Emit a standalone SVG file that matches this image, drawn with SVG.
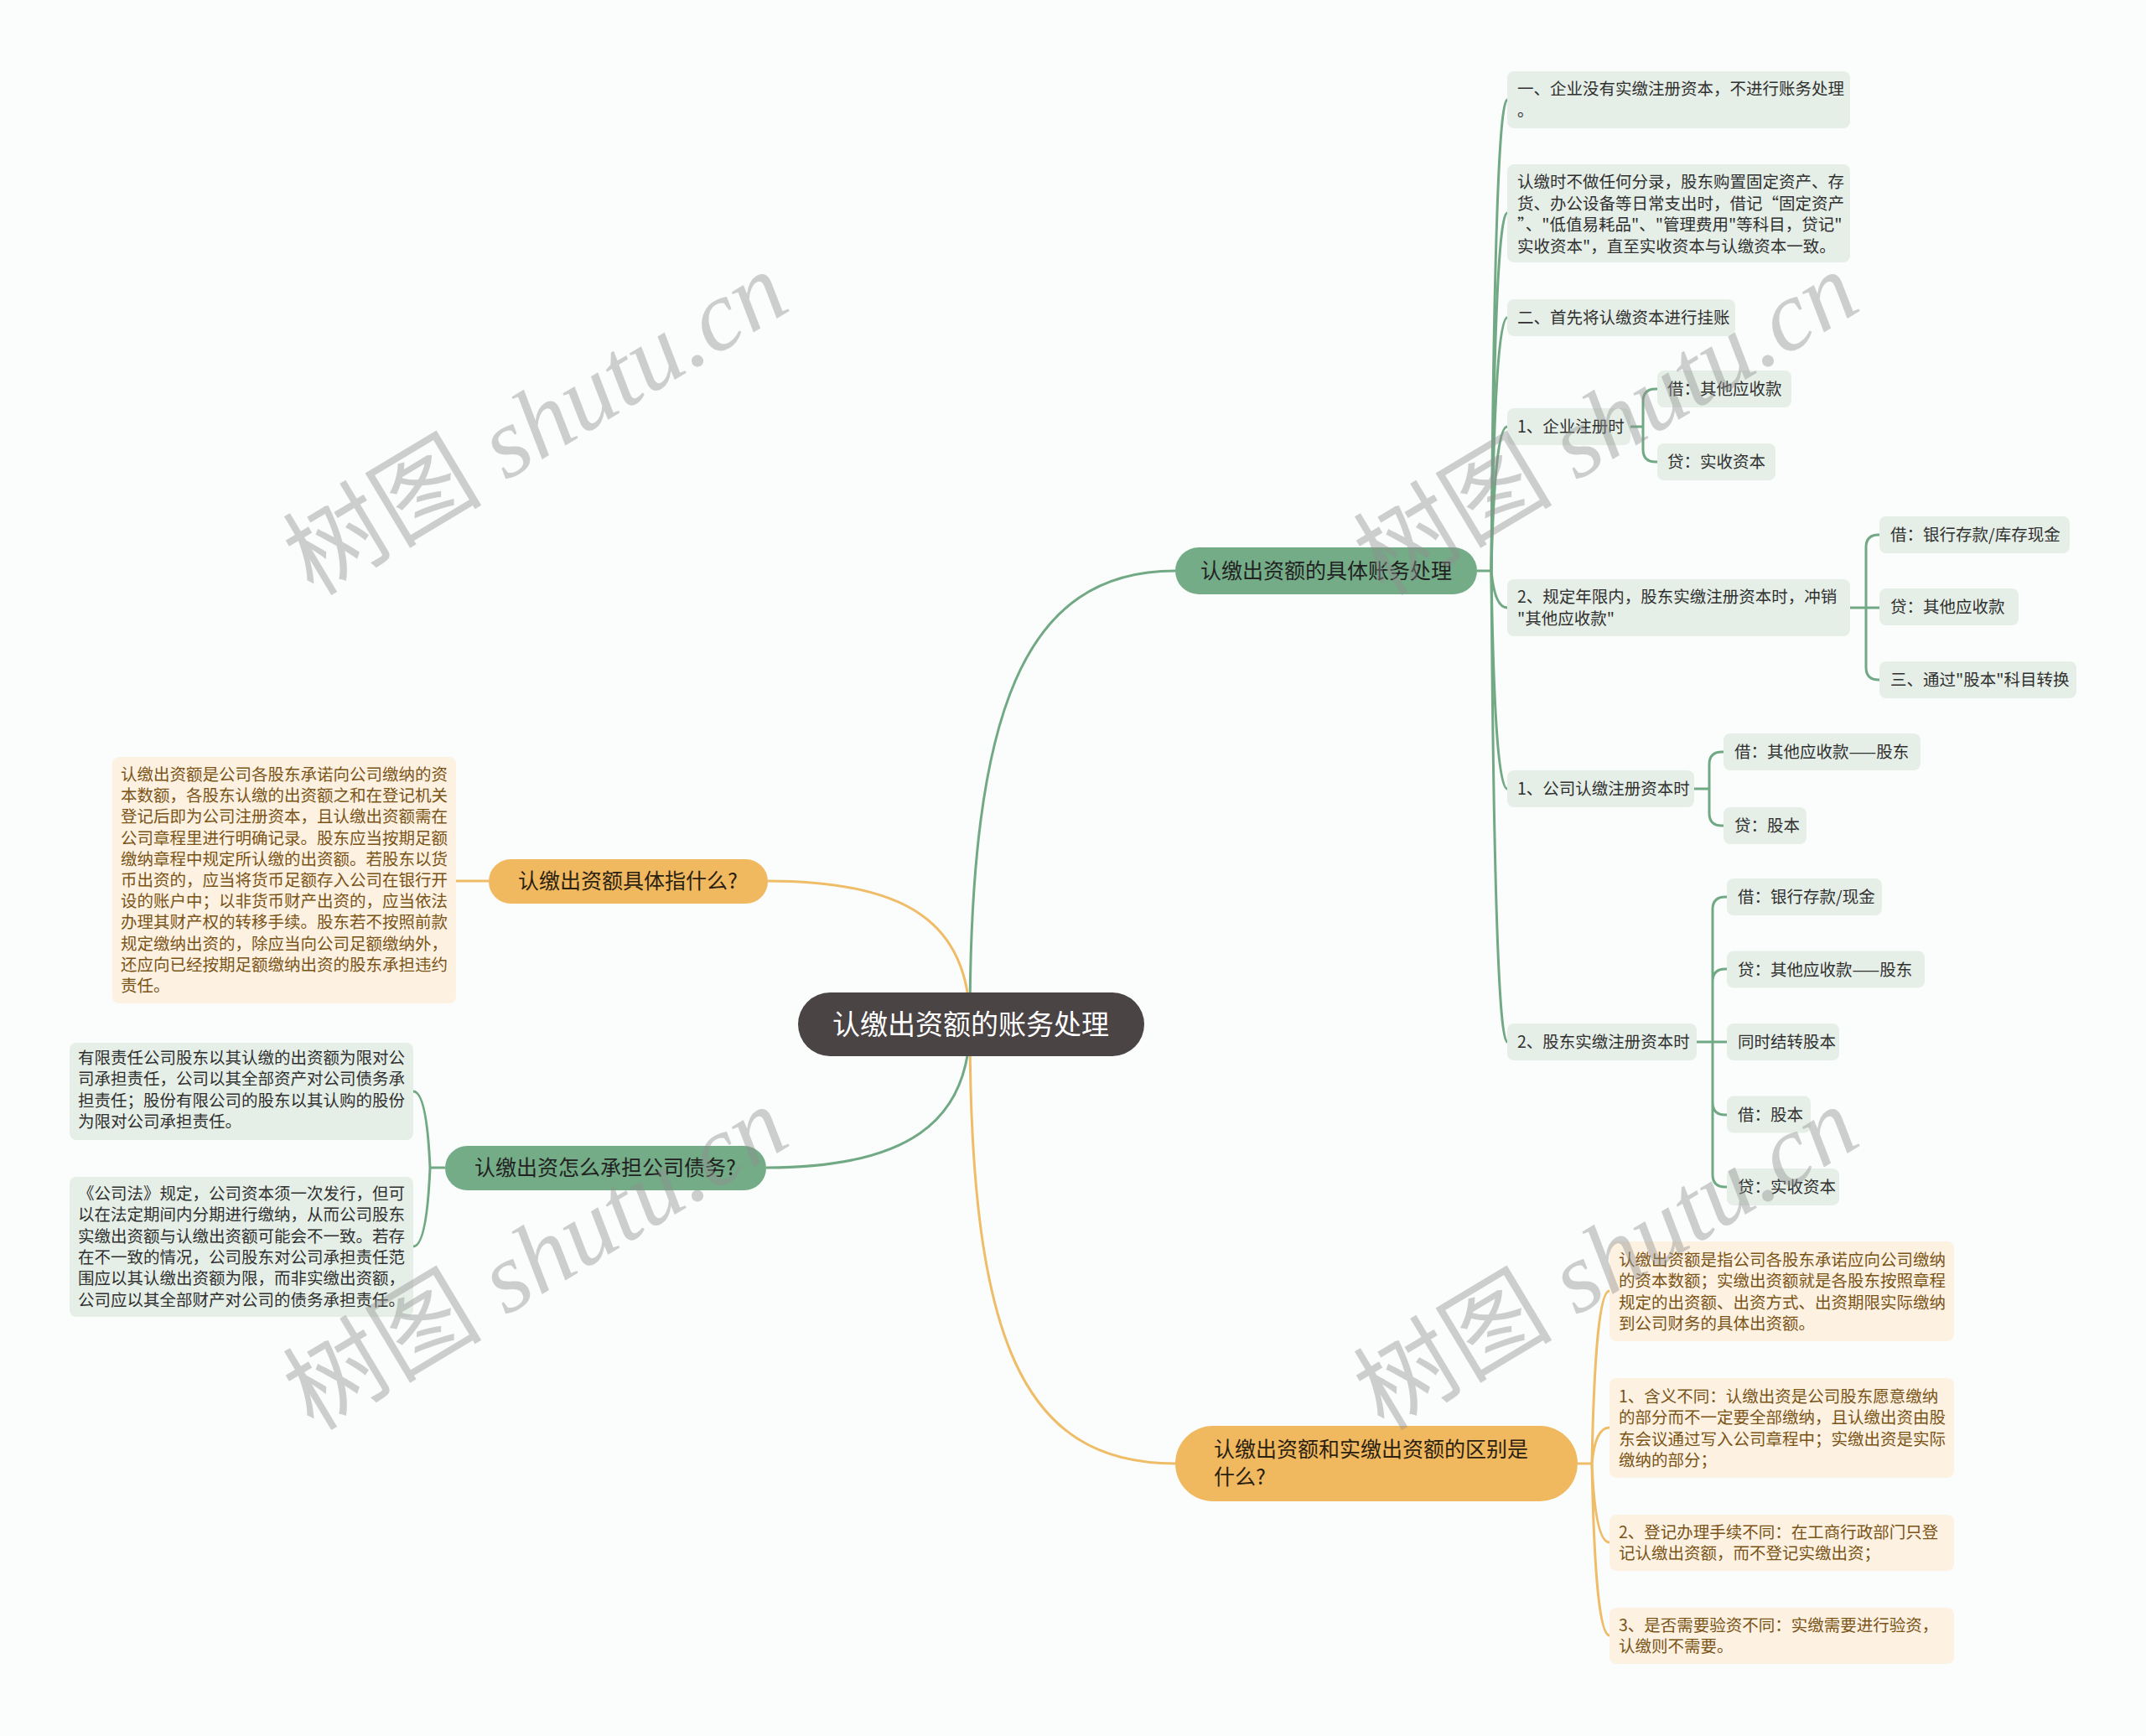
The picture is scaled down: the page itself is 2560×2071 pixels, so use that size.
<svg xmlns="http://www.w3.org/2000/svg" width="2560" height="2071" viewBox="0 0 2560 2071">
<defs>
<style>
.cj{font-family:"Noto Sans CJK SC","Noto Sans",sans-serif}
.lg{fill:#e5efe7}
.lo{fill:#fdf1e2}
.tg{font-family:"Noto Sans CJK SC",sans-serif;font-size:19.5px;fill:#303030}
.to{font-family:"Noto Sans CJK SC",sans-serif;font-size:19.5px;fill:#7a5416}
.cg{fill:none;stroke:#72a985;stroke-width:3}
.co{fill:none;stroke:#efbc68;stroke-width:3}
.wm{font-size:119px;fill:#8f8f8f;opacity:.42}
</style>
</defs>
<rect width="2560" height="2071" fill="#fafdfc"/>
<g id="connectors">
<path class="cg" d="M1157,1222 C1157,850 1220,681 1402,681"/>
<path class="co" d="M1157,1222 C1157,1100 1080,1051 916,1051"/>
<path class="cg" d="M1157,1222 C1157,1340 1080,1393 914,1393"/>
<path class="co" d="M1157,1222 C1157,1600 1220,1746 1402,1746"/>
<path class="co" d="M583,1051 L544,1051"/>
<path class="cg" d="M1762,681 L1779,681"/>
<path class="cg" d="M1779,681 Q1783,119 1798,119"/>
<path class="cg" d="M1779,681 Q1783,254 1798,254"/>
<path class="cg" d="M1779,681 Q1783,379 1798,379"/>
<path class="cg" d="M1779,681 Q1783,509 1798,509"/>
<path class="cg" d="M1779,681 Q1783,725 1798,725"/>
<path class="cg" d="M1779,681 Q1783,941 1798,941"/>
<path class="cg" d="M1779,681 Q1783,1243 1798,1243"/>
<path class="cg" d="M1945,509 H1960 M1960,509 V479 Q1960,464 1975,464 H1977 M1960,509 V536 Q1960,551 1975,551 H1977"/>
<path class="cg" d="M2207,725 H2226 M2226,725 V653 Q2226,638 2241,638 H2242 M2226,725 H2242 M2226,725 V796 Q2226,811 2241,811 H2242"/>
<path class="cg" d="M2021,941 H2039 M2039,941 V912 Q2039,897 2054,897 H2056 M2039,941 V970 Q2039,985 2054,985 H2056"/>
<path class="cg" d="M2024,1243 H2043 M2043,1243 V1085 Q2043,1070 2058,1070 H2060 M2043,1243 V1171 Q2043,1156 2058,1156 H2060 M2043,1243 H2060 M2043,1243 V1315 Q2043,1330 2058,1330 H2060 M2043,1243 V1401 Q2043,1416 2058,1416 H2060"/>
<path class="cg" d="M531,1393 L513,1393"/>
<path class="cg" d="M513,1393 Q509,1302 493,1302"/>
<path class="cg" d="M513,1393 Q509,1487 493,1487"/>
<path class="co" d="M1882,1746 L1899,1746"/>
<path class="co" d="M1899,1746 Q1903,1540 1920,1540"/>
<path class="co" d="M1899,1746 Q1903,1703 1920,1703"/>
<path class="co" d="M1899,1746 Q1903,1840 1920,1840"/>
<path class="co" d="M1899,1746 Q1903,1951 1920,1951"/>
</g>
<g id="root">
<rect x="952" y="1184" width="413" height="76" rx="38" fill="#4a4444"/>
<text class="cj" x="1158" y="1234" font-size="33" fill="#ffffff" text-anchor="middle">认缴出资额的账务处理</text>
</g>
<g id="b1">
<rect x="1402" y="653" width="360" height="56" rx="28" fill="#74ac87"/>
<text class="cj" x="1582" y="690" font-size="25" fill="#222" text-anchor="middle">认缴出资额的具体账务处理</text>
</g>
<g id="b2">
<rect x="583" y="1025" width="333" height="53" rx="26.5" fill="#f0b960"/>
<text class="cj" x="749" y="1060" font-size="25" fill="#2b2111" text-anchor="middle">认缴出资额具体指什么?</text>
</g>
<g id="b3">
<rect x="531" y="1367" width="383" height="53" rx="26.5" fill="#74ac87"/>
<text class="cj" x="722" y="1402" font-size="25" fill="#222" text-anchor="middle">认缴出资怎么承担公司债务?</text>
</g>
<g id="b4">
<rect x="1402" y="1701" width="480" height="90" rx="45" fill="#f0b960"/>
<text class="cj" font-size="25" fill="#2b2111"><tspan x="1448" y="1738">认缴出资额和实缴出资额的区别是</tspan><tspan x="1448" y="1771">什么?</tspan></text>
</g>
<g id="n-a">
<rect class="lg" x="1798" y="85" width="409" height="68" rx="8"/>
<text class="tg"><tspan x="1810" y="113">一、企业没有实缴注册资本，不进行账务处理</tspan><tspan x="1810" y="139">。</tspan></text>
</g>
<g id="n-b">
<rect class="lg" x="1798" y="196" width="409" height="117" rx="8"/>
<text class="tg"><tspan x="1810" y="224">认缴时不做任何分录，股东购置固定资产、存</tspan><tspan x="1810" y="249.5">货、办公设备等日常支出时，借记“固定资产</tspan><tspan x="1810" y="275">”、"低值易耗品"、"管理费用"等科目，贷记"</tspan><tspan x="1810" y="300.5">实收资本"，直至实收资本与认缴资本一致。</tspan></text>
</g>
<g id="n-c">
<rect class="lg" x="1798" y="357" width="272" height="44" rx="8"/>
<text class="tg" x="1810" y="386">二、首先将认缴资本进行挂账</text>
</g>
<g id="n-d">
<rect class="lg" x="1798" y="487" width="147" height="44" rx="8"/>
<text class="tg" x="1810" y="516">1、企业注册时</text>
</g>
<g id="n-d1">
<rect class="lg" x="1977" y="442" width="160" height="44" rx="8"/>
<text class="tg" x="1989" y="471">借：其他应收款</text>
</g>
<g id="n-d2">
<rect class="lg" x="1977" y="529" width="141" height="44" rx="8"/>
<text class="tg" x="1989" y="558">贷：实收资本</text>
</g>
<g id="n-e">
<rect class="lg" x="1798" y="691" width="409" height="68" rx="8"/>
<text class="tg"><tspan x="1810" y="719">2、规定年限内，股东实缴注册资本时，冲销</tspan><tspan x="1810" y="745">"其他应收款"</tspan></text>
</g>
<g id="n-e1">
<rect class="lg" x="2242" y="616" width="227" height="44" rx="8"/>
<text class="tg" x="2255" y="645">借：银行存款/库存现金</text>
</g>
<g id="n-e2">
<rect class="lg" x="2242" y="702" width="166" height="44" rx="8"/>
<text class="tg" x="2255" y="731">贷：其他应收款</text>
</g>
<g id="n-e3">
<rect class="lg" x="2242" y="789" width="235" height="44" rx="8"/>
<text class="tg" x="2255" y="818">三、通过"股本"科目转换</text>
</g>
<g id="n-f">
<rect class="lg" x="1798" y="919" width="223" height="44" rx="8"/>
<text class="tg" x="1810" y="948">1、公司认缴注册资本时</text>
</g>
<g id="n-f1">
<rect class="lg" x="2056" y="875" width="235" height="44" rx="8"/>
<text class="tg" x="2069" y="904">借：其他应收款——股东</text>
</g>
<g id="n-f2">
<rect class="lg" x="2056" y="963" width="99" height="44" rx="8"/>
<text class="tg" x="2069" y="992">贷：股本</text>
</g>
<g id="n-g">
<rect class="lg" x="1798" y="1221" width="226" height="44" rx="8"/>
<text class="tg" x="1810" y="1250">2、股东实缴注册资本时</text>
</g>
<g id="n-g1">
<rect class="lg" x="2060" y="1048" width="185" height="44" rx="8"/>
<text class="tg" x="2073" y="1077">借：银行存款/现金</text>
</g>
<g id="n-g2">
<rect class="lg" x="2060" y="1134.5" width="236" height="44" rx="8"/>
<text class="tg" x="2073" y="1163.5">贷：其他应收款——股东</text>
</g>
<g id="n-g3">
<rect class="lg" x="2060" y="1221" width="134" height="44" rx="8"/>
<text class="tg" x="2073" y="1250">同时结转股本</text>
</g>
<g id="n-g4">
<rect class="lg" x="2060" y="1307.5" width="100" height="44" rx="8"/>
<text class="tg" x="2073" y="1336.5">借：股本</text>
</g>
<g id="n-g5">
<rect class="lg" x="2060" y="1394" width="134" height="44" rx="8"/>
<text class="tg" x="2073" y="1423">贷：实收资本</text>
</g>
<g id="n-h1">
<rect class="lo" x="1920" y="1481" width="411" height="119" rx="8"/>
<text class="to"><tspan x="1931" y="1510">认缴出资额是指公司各股东承诺应向公司缴纳</tspan><tspan x="1931" y="1535.3">的资本数额；实缴出资额就是各股东按照章程</tspan><tspan x="1931" y="1560.6">规定的出资额、出资方式、出资期限实际缴纳</tspan><tspan x="1931" y="1585.9">到公司财务的具体出资额。</tspan></text>
</g>
<g id="n-h2">
<rect class="lo" x="1920" y="1644" width="411" height="119" rx="8"/>
<text class="to"><tspan x="1931" y="1673">1、含义不同：认缴出资是公司股东愿意缴纳</tspan><tspan x="1931" y="1698.3">的部分而不一定要全部缴纳，且认缴出资由股</tspan><tspan x="1931" y="1723.6">东会议通过写入公司章程中；实缴出资是实际</tspan><tspan x="1931" y="1748.9">缴纳的部分；</tspan></text>
</g>
<g id="n-h3">
<rect class="lo" x="1920" y="1807" width="411" height="67" rx="8"/>
<text class="to"><tspan x="1931" y="1835">2、登记办理手续不同：在工商行政部门只登</tspan><tspan x="1931" y="1860.3">记认缴出资额，而不登记实缴出资；</tspan></text>
</g>
<g id="n-h4">
<rect class="lo" x="1920" y="1918" width="411" height="67" rx="8"/>
<text class="to"><tspan x="1931" y="1946">3、是否需要验资不同：实缴需要进行验资，</tspan><tspan x="1931" y="1971.3">认缴则不需要。</tspan></text>
</g>
<g id="n-l1">
<rect class="lo" x="134" y="903" width="410" height="294" rx="8"/>
<text class="to"><tspan x="144" y="931">认缴出资额是公司各股东承诺向公司缴纳的资</tspan><tspan x="144" y="956.2">本数额，各股东认缴的出资额之和在登记机关</tspan><tspan x="144" y="981.4">登记后即为公司注册资本，且认缴出资额需在</tspan><tspan x="144" y="1006.6">公司章程里进行明确记录。股东应当按期足额</tspan><tspan x="144" y="1031.8">缴纳章程中规定所认缴的出资额。若股东以货</tspan><tspan x="144" y="1057">币出资的，应当将货币足额存入公司在银行开</tspan><tspan x="144" y="1082.2">设的账户中；以非货币财产出资的，应当依法</tspan><tspan x="144" y="1107.4">办理其财产权的转移手续。股东若不按照前款</tspan><tspan x="144" y="1132.6">规定缴纳出资的，除应当向公司足额缴纳外，</tspan><tspan x="144" y="1157.8">还应向已经按期足额缴纳出资的股东承担违约</tspan><tspan x="144" y="1183">责任。</tspan></text>
</g>
<g id="n-m1">
<rect class="lg" x="83" y="1244" width="410" height="116" rx="8"/>
<text class="tg"><tspan x="93" y="1269">有限责任公司股东以其认缴的出资额为限对公</tspan><tspan x="93" y="1294.3">司承担责任，公司以其全部资产对公司债务承</tspan><tspan x="93" y="1319.6">担责任；股份有限公司的股东以其认购的股份</tspan><tspan x="93" y="1344.9">为限对公司承担责任。</tspan></text>
</g>
<g id="n-m2">
<rect class="lg" x="83" y="1404" width="410" height="167" rx="8"/>
<text class="tg"><tspan x="93" y="1431">《公司法》规定，公司资本须一次发行，但可</tspan><tspan x="93" y="1456.3">以在法定期间内分期进行缴纳，从而公司股东</tspan><tspan x="93" y="1481.6">实缴出资额与认缴出资额可能会不一致。若存</tspan><tspan x="93" y="1506.9">在不一致的情况，公司股东对公司承担责任范</tspan><tspan x="93" y="1532.2">围应以其认缴出资额为限，而非实缴出资额，</tspan><tspan x="93" y="1557.5">公司应以其全部财产对公司的债务承担责任。</tspan></text>
</g>
<g id="watermarks">
<text class="wm" transform="translate(660,540) rotate(-31)" text-anchor="middle"><tspan font-family="Noto Sans CJK SC, sans-serif">树图</tspan><tspan font-family="Liberation Serif, serif" font-style="italic"> shutu.cn</tspan></text>
<text class="wm" transform="translate(1937,540) rotate(-31)" text-anchor="middle"><tspan font-family="Noto Sans CJK SC, sans-serif">树图</tspan><tspan font-family="Liberation Serif, serif" font-style="italic"> shutu.cn</tspan></text>
<text class="wm" transform="translate(660,1536) rotate(-31)" text-anchor="middle"><tspan font-family="Noto Sans CJK SC, sans-serif">树图</tspan><tspan font-family="Liberation Serif, serif" font-style="italic"> shutu.cn</tspan></text>
<text class="wm" transform="translate(1937,1536) rotate(-31)" text-anchor="middle"><tspan font-family="Noto Sans CJK SC, sans-serif">树图</tspan><tspan font-family="Liberation Serif, serif" font-style="italic"> shutu.cn</tspan></text>
</g>
</svg>
